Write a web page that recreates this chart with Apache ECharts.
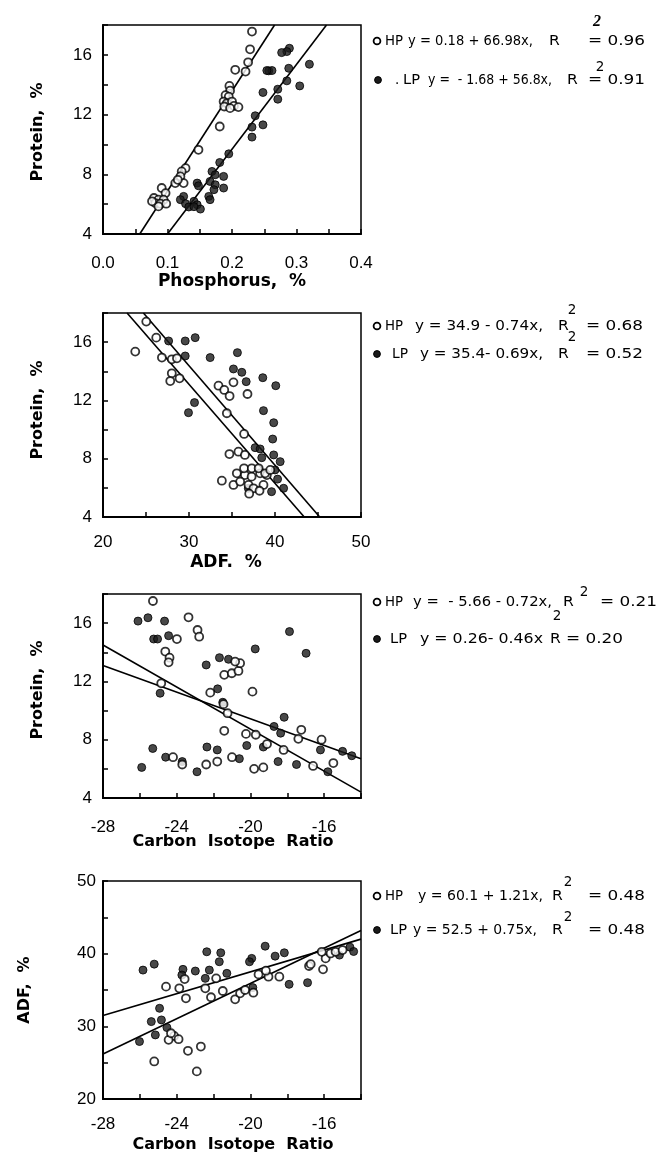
<!DOCTYPE html>
<html><head><meta charset="utf-8">
<script src="https://cdn.jsdelivr.net/npm/echarts@6/dist/echarts.min.js"></script>
<style>html,body{margin:0;padding:0;background:#fff}#c{width:659px;height:1154px}</style>
</head><body><div id="c"></div><script>
// ---------- Panel 1: Protein vs Phosphorus ----------
const p1HP = [[0.231,17.56],[0.228,16.37],[0.225,15.5],[0.205,15.0],[0.221,14.88],[0.196,13.92],[0.197,13.6],[0.19,13.3],[0.195,13.2],[0.187,12.87],[0.192,12.76],[0.2,12.87],[0.203,12.58],[0.188,12.54],[0.197,12.43],[0.21,12.5],[0.181,11.2],[0.148,9.64],[0.128,8.41],[0.122,8.19],[0.12,7.86],[0.125,7.41],[0.112,7.41],[0.116,7.63],[0.091,7.08],[0.097,6.74],[0.079,6.41],[0.086,6.3],[0.094,6.3],[0.081,6.07],[0.089,6.03],[0.098,6.03],[0.086,5.85],[0.076,6.19]];
const p1LP = [[0.289,16.44],[0.285,16.22],[0.277,16.15],[0.257,14.93],[0.262,14.95],[0.254,14.95],[0.32,15.37],[0.288,15.1],[0.285,14.26],[0.271,13.7],[0.305,13.92],[0.248,13.48],[0.271,13.03],[0.236,11.92],[0.231,11.16],[0.248,11.31],[0.231,10.49],[0.195,9.37],[0.181,8.79],[0.169,8.19],[0.174,7.97],[0.187,7.86],[0.166,7.52],[0.174,7.3],[0.187,7.08],[0.146,7.41],[0.148,7.23],[0.172,6.97],[0.164,6.52],[0.166,6.3],[0.125,6.52],[0.12,6.3],[0.128,6.03],[0.133,5.81],[0.141,6.19],[0.146,5.96],[0.151,5.67],[0.141,5.83]];
const p1HPLine = [[0.057,4],[0.266,18]];
const p1LPLine = [[0.1,4],[0.3465,18]];

// ---------- Panel 2: Protein vs ADF ----------
const p2HP = [[25.03,17.41],[26.19,16.31],[23.75,15.35],[26.85,14.94],[28.0,14.82],[28.6,14.89],[28.0,13.86],[27.82,13.33],[28.9,13.52],[33.43,13.01],[34.1,12.72],[34.72,12.3],[35.17,13.24],[36.8,12.44],[34.4,11.12],[36.41,9.7],[34.7,8.32],[35.75,8.48],[36.5,8.26],[35.56,7.0],[36.5,6.88],[37.28,6.77],[38.27,7.0],[39.05,6.88],[33.82,6.49],[35.17,6.2],[35.95,6.43],[36.92,6.2],[37.5,5.97],[38.66,6.2],[36.4,7.34],[37.3,7.34],[38.1,7.34],[38.85,7.0],[39.45,7.23],[37.0,5.6],[38.2,5.8]];
const p2LP = [[27.63,16.08],[29.56,16.08],[30.72,16.31],[29.56,15.05],[32.46,14.94],[35.63,15.28],[35.17,14.16],[36.14,13.93],[36.65,13.29],[38.58,13.56],[40.09,13.01],[30.64,11.85],[29.94,11.16],[38.66,11.3],[39.85,10.47],[39.73,9.35],[37.69,8.76],[38.27,8.67],[38.46,8.07],[39.85,8.26],[40.6,7.8],[40.0,7.23],[41.0,5.97],[39.6,5.74],[36.9,5.97],[40.3,6.6]];
const p2HPLine = [[22.8,18],[43.4,4]];
const p2LPLine = [[24.7,18],[45.2,4]];

// ---------- Panel 3: Protein vs Carbon isotope ratio ----------
const p3HP = [[-25.29,17.52],[-23.36,16.4],[-22.87,15.53],[-22.78,15.07],[-23.99,14.91],[-24.62,14.05],[-24.39,13.63],[-24.44,13.31],[-21.42,12.45],[-21.01,12.56],[-20.65,12.72],[-20.56,13.25],[-20.83,13.36],[-22.18,11.23],[-19.89,11.3],[-24.84,11.87],[-21.46,10.44],[-21.24,9.82],[-21.42,8.61],[-20.24,8.4],[-19.71,8.34],[-17.24,8.68],[-17.4,8.06],[-16.14,8.0],[-24.2,6.8],[-23.7,6.3],[-22.4,6.3],[-21.8,6.5],[-21.0,6.8],[-19.8,6.0],[-19.3,6.1],[-19.1,7.7],[-18.2,7.3],[-16.6,6.2],[-15.5,6.4]];
const p3LP = [[-26.1,16.14],[-25.56,16.37],[-24.66,16.14],[-25.25,14.91],[-25.04,14.91],[-24.44,15.14],[-22.4,13.13],[-21.68,13.63],[-21.19,13.52],[-19.74,14.23],[-17.88,15.42],[-16.98,13.93],[-24.9,11.19],[-21.78,11.49],[-21.5,10.57],[-18.17,9.54],[-18.72,8.91],[-18.36,8.45],[-25.9,6.1],[-25.3,7.4],[-24.6,6.8],[-23.7,6.5],[-22.9,5.8],[-21.8,7.3],[-20.6,6.7],[-18.5,6.5],[-17.5,6.3],[-15.8,5.8],[-16.2,7.3],[-15.0,7.2],[-14.5,6.9],[-22.36,7.5],[-20.2,7.6],[-19.3,7.5]];
const p3HPLine = [[-28,14.5],[-14,4.4]];
const p3LPLine = [[-28,13.1],[-14,6.7]];

// ---------- Panel 4: ADF vs Carbon isotope ratio ----------
const p4HP = [[-24.58,35.46],[-23.86,35.23],[-23.5,33.86],[-23.57,36.51],[-22.45,35.23],[-22.14,34.0],[-21.86,36.6],[-21.5,34.86],[-20.83,33.72],[-20.56,34.54],[-20.29,35.0],[-19.84,34.63],[-19.56,37.15],[-19.02,36.83],[-19.16,37.66],[-18.43,36.83],[-16.82,38.3],[-16.73,38.56],[-16.06,37.84],[-15.92,39.35],[-15.65,40.03],[-15.38,40.26],[-24.14,28.68],[-24.44,28.14],[-23.9,28.23],[-24.31,29.05],[-25.22,25.17],[-23.39,26.63],[-22.69,27.22],[-22.91,23.8],[-16.13,40.26],[-15.0,40.5]];
const p4LP = [[-25.83,37.74],[-25.22,38.56],[-22.37,40.26],[-21.61,40.12],[-21.69,38.89],[-23.66,37.84],[-22.99,37.61],[-22.23,37.74],[-23.72,37.06],[-21.28,37.29],[-22.45,36.6],[-19.93,39.35],[-20.05,38.89],[-19.2,41.03],[-18.66,39.66],[-18.16,40.12],[-19.87,35.33],[-17.9,35.78],[-16.9,36.01],[-24.93,32.48],[-25.38,30.65],[-24.83,30.88],[-25.16,28.82],[-24.53,29.83],[-26.02,27.91],[-15.17,39.8],[-14.6,40.9],[-14.4,40.3]];
const p4HPLine = [[-28,26.2],[-14,43.2]];
const p4LPLine = [[-28,31.5],[-14,42.0]];

// axis titles and legend texts
const xTitles = ['Phosphorus,  %', 'ADF.  %', 'Carbon  Isotope  Ratio', 'Carbon  Isotope  Ratio'];
const yTitles = ['Protein,  %', 'Protein,  %', 'Protein,  %', 'ADF,  %'];
const legendHP = [['HP','y = 0.18 + 66.98x,','R','= 0.96'],['HP','y = 34.9 - 0.74x,','R','= 0.68'],['HP','y =  - 5.66 - 0.72x,','R','= 0.21'],['HP','y = 60.1 + 1.21x,','R','= 0.48']];
const legendLP = [['LP','y =  - 1.68 + 56.8x,','R','= 0.91'],['LP','y = 35.4- 0.69x,','R','= 0.52'],['LP','y = 0.26- 0.46x','R','= 0.20'],['LP','y = 52.5 + 0.75x,','R','= 0.48']];

// ---------- layout ----------
const grids = [
  {left:103, top:25, width:258, height:209},
  {left:103, top:313, width:258, height:204},
  {left:103, top:594, width:258, height:204},
  {left:103, top:881, width:258, height:218}
];
const xCfg = [
  {min:0, max:0.4, interval:0.05, fmt:v => (Math.round(v*100)%10===0 ? v.toFixed(1) : ''), margin:21},
  {min:20, max:50, interval:5, fmt:v => (v%10===0 ? String(v) : ''), margin:17},
  {min:-28, max:-14, interval:2, fmt:v => (v%4===0 ? String(v) : ''), margin:21},
  {min:-28, max:-14, interval:2, fmt:v => (v%4===0 ? String(v) : ''), margin:17}
];
const yCfg = [
  {min:4, max:18, interval:2, fmt:v => (v%4===0 && v<18 ? String(v) : ''), margin:11},
  {min:4, max:18, interval:2, fmt:v => (v%4===0 && v<18 ? String(v) : ''), margin:11},
  {min:4, max:18, interval:2, fmt:v => (v%4===0 && v<18 ? String(v) : ''), margin:11},
  {min:20, max:50, interval:5, fmt:v => (v%10===0 ? String(v) : ''), margin:7}
];
const tickFont = {color:'#000', fontFamily:'Liberation Sans', fontSize:17};

function axis(cfg, i) {
  return {
    type:'value', gridIndex:i, min:cfg.min, max:cfg.max, interval:cfg.interval,
    axisLine:{show:true, onZero:false, lineStyle:{color:'#000', width:2}},
    axisTick:{show:true, inside:true, length:5, lineStyle:{color:'#000', width:1.5}},
    splitLine:{show:false},
    axisLabel:Object.assign({margin:cfg.margin, formatter:cfg.fmt, showMinLabel:true, showMaxLabel:true}, tickFont)
  };
}

const hpSets = [p1HP, p2HP, p3HP, p4HP];
const lpSets = [p1LP, p2LP, p3LP, p4LP];
const hpLines = [p1HPLine, p2HPLine, p3HPLine, p4HPLine];
const lpLines = [p1LPLine, p2LPLine, p3LPLine, p4LPLine];

const series = [];
for (let i = 0; i < 4; i++) {
  [hpLines[i], lpLines[i]].forEach(d => series.push({
    type:'line', xAxisIndex:i, yAxisIndex:i, data:d, symbol:'none', silent:true, z:1,
    lineStyle:{color:'#000', width:1.6}
  }));
  series.push({type:'scatter', xAxisIndex:i, yAxisIndex:i, data:lpSets[i], symbol:'circle', symbolSize:8, z:3,
    itemStyle:{color:'#1a1a1a', borderColor:'#000', borderWidth:1}});
  series.push({type:'scatter', xAxisIndex:i, yAxisIndex:i, data:hpSets[i], symbol:'circle', symbolSize:8, z:4,
    itemStyle:{color:'#fff', borderColor:'#000', borderWidth:1.8}});
}

// ---------- texts ----------
const legFont = '13.5px "DejaVu Sans"';
const mctx = document.createElement('canvas').getContext('2d');
function measure(text, font) { mctx.font = font; return mctx.measureText(text).width; }
const graphic = [];
function txt(x, y, text, font, align, rot, sx) {
  graphic.push({type:'text', x:x, y:y, rotation:rot||0, scaleX:sx||1, silent:true,
    style:{text:text, font:font, fill:'#000', align:align||'left', verticalAlign:'middle', textAlign:align||'left', textVerticalAlign:'middle'}});
}
function fit(x0, x1, y, text, font) {
  const w = measure(text, font);
  txt(x0, y, text, font, 'left', 0, (x1 - x0) / w);
}
const xTitlePos = [[232,282],[226,563],[233,842],[233,1145]];
const xTitleFont = ['bold 17px "DejaVu Sans"','bold 17px "DejaVu Sans"','bold 16px "DejaVu Sans"','bold 16px "DejaVu Sans"'];
const yTitlePos = [[38,132],[38,410],[38,690],[25,990]];
for (let i = 0; i < 4; i++) {
  txt(xTitlePos[i][0], xTitlePos[i][1], xTitles[i], xTitleFont[i], 'center');
  txt(yTitlePos[i][0], yTitlePos[i][1], yTitles[i], 'bold 16px "DejaVu Sans"', 'center', Math.PI/2);
}
// legend rows: [markerX, y, label x0, label x1, eq x0, eq x1, R x, value right x, sup x, sup y]
const legRowsHP = [
  [377, 41, 385, 403, 408, 533, 549, 645, 597, 22],
  [377, 326, 385, 403, 415, 543, 558, 643, 572, 310],
  [377, 602, 385, 403, 413, 552, 563, 657, 584, 592],
  [377, 896, 385, 403, 418, 543, 552, 645, 568, 882]
];
const legRowsLP = [
  [378, 80, 403, 420, 428, 552, 567, 645, 600, 67],
  [377, 354, 392, 408, 420, 543, 558, 643, 572, 337],
  [377, 639, 390, 407, 420, 543, 550, 623, 557, 616],
  [377, 930, 390, 407, 413, 537, 552, 645, 568, 917]
];
function legRow(r, t, open, supBold, dot) {
  graphic.push({type:'circle', silent:true, shape:{cx:r[0], cy:r[1], r:3.4},
    style: open ? {fill:'#fff', stroke:'#000', lineWidth:1.8} : {fill:'#1a1a1a', stroke:'#000', lineWidth:1}});
  if (dot) txt(395, r[1], '.', legFont);
  fit(r[2], r[3], r[1], t[0], legFont);
  fit(r[4], r[5], r[1], t[1], legFont);
  txt(r[6], r[1], t[2], legFont, 'left', 0, 1.15);
  txt(r[7], r[1], t[3], legFont, 'right', 0, 1.25);
  txt(r[8], r[9], '2', supBold ? 'italic bold 16px "Liberation Serif"' : legFont, 'center');
}
for (let i = 0; i < 4; i++) {
  legRow(legRowsHP[i], legendHP[i], true, i === 0, false);
  legRow(legRowsLP[i], legendLP[i], false, false, i === 0);
}

const chart = echarts.init(document.getElementById('c'), null, {renderer:'canvas'});
chart.setOption({
  animation:false,
  backgroundColor:'#fff',
  grid: grids.map(g => Object.assign({show:true, borderColor:'#000', borderWidth:1.5, backgroundColor:'transparent', containLabel:false}, g)),
  xAxis: xCfg.map(axis),
  yAxis: yCfg.map(axis),
  series: series,
  graphic: graphic
});
</script></body></html>
